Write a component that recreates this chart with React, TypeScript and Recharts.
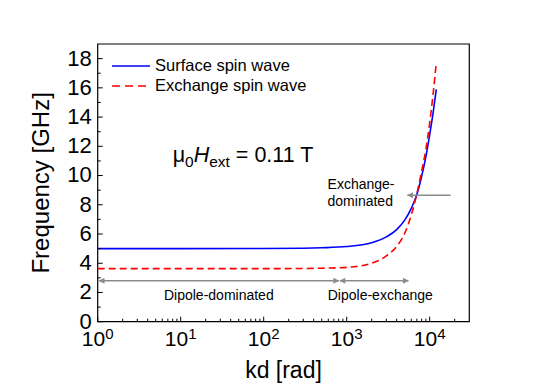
import {
	Legend,
	Line,
	LineChart,
	ReferenceArea,
	ReferenceDot,
	ReferenceLine,
	XAxis,
	YAxis,
} from "recharts";

// wave vector kd [rad] and frequency [GHz]
const kd = [1, 10, 100, 300, 500, 1000, 2000, 3000, 4000, 5000, 6000, 7000, 8000, 9000, 10000, 11000, 12000];
const surfaceWave = [5.0, 5.0, 5.01, 5.03, 5.06, 5.14, 5.4, 5.8, 6.3, 6.95, 7.75, 8.7, 9.95, 11.3, 12.8, 14.3, 15.9];
const exchangeWave = [3.63, 3.63, 3.63, 3.64, 3.66, 3.72, 4.0, 4.5, 5.15, 6.05, 7.3, 8.75, 10.3, 11.8, 13.6, 15.6, 17.7];
const seriesNames = ["Surface spin wave", "Exchange spin wave"];

const xTicks = [
	1, 2, 3, 4, 5, 6, 7, 8, 9,
	10, 20, 30, 40, 50, 60, 70, 80, 90,
	100, 200, 300, 400, 500, 600, 700, 800, 900,
	1000, 2000, 3000, 4000, 5000, 6000, 7000, 8000, 9000,
	10000, 20000,
];
const yTicks = [0, 1, 2, 3, 4, 5, 6, 7, 8, 9, 10, 11, 12, 13, 14, 15, 16, 17, 18];

// region arrows: [x start, x end, y]
const dipoleArrow = [1.04, 803, 2.8];
const dipoleExchangeArrow = [828, 5530, 2.8];
const exchangeArrow = [17900, 5400, 8.65];

const data = kd.map((k, i) => ({ kd: k, surface: surfaceWave[i], exchange: exchangeWave[i] }));

const FONT = "'Liberation Sans', Arial, sans-serif";
const GRAY = "#8c8c8c";

const YTick = (props: any) => {
	const { x, y, payload } = props;
	const v = payload.value;
	const major = v % 2 === 0;
	return (
		<g>
			<line x1={x} x2={x + (major ? 5 : 3)} y1={y} y2={y} stroke="#000" strokeWidth={1} />
			{major && (
				<text x={x - 6} y={y - 1} dy="0.36em" textAnchor="end" fontSize={22} fontFamily={FONT} fill="#000">
					{v}
				</text>
			)}
		</g>
	);
};

const XTick = (props: any) => {
	const { x, y, payload } = props;
	const v = payload.value;
	const e = Math.round(Math.log10(v));
	const major = Math.abs(Math.log10(v) - e) < 1e-9;
	return (
		<g>
			<line x1={x} x2={x} y1={y} y2={y - (major ? 5 : 3)} stroke="#000" strokeWidth={1} />
			{major && (
				<text x={x} y={y + 24} textAnchor="middle" fontSize={21} fontFamily={FONT} fill="#000">
					10
					<tspan dy={-7} fontSize={15}>
						{e}
					</tspan>
				</text>
			)}
		</g>
	);
};

const renderLegend = (props: any) => {
	const items = [...props.payload].sort(
		(a: any, b: any) => seriesNames.indexOf(a.value) - seriesNames.indexOf(b.value),
	);
	return (
		<div style={{ fontFamily: FONT, fontSize: 16.5, color: "#000" }}>
			{items.map((entry: any) => (
				<div key={entry.value} style={{ display: "flex", alignItems: "center", height: 20 }}>
					<svg width={45} height={20}>
						<line
							x1={2}
							x2={40}
							y1={10}
							y2={10}
							stroke={entry.color}
							strokeWidth={1.6}
							strokeDasharray={entry.payload?.strokeDasharray ? "8 5" : undefined}
						/>
					</svg>
					<span>{entry.value}</span>
				</div>
			))}
		</div>
	);
};

const arrowShape = (start: boolean, end: boolean) => (p: any) => (
	<line
		x1={p.x1}
		y1={p.y1}
		x2={p.x2}
		y2={p.y2}
		stroke={GRAY}
		strokeWidth={1.5}
		markerStart={start ? "url(#arrowHead)" : undefined}
		markerEnd={end ? "url(#arrowHead)" : undefined}
	/>
);

const textShape = (lines: string[], anchor: string, size: number) => (p: any) => (
	<text x={p.cx} y={p.cy} textAnchor={anchor} fontSize={size} fontFamily={FONT} fill="#000">
		{lines.map((l, i) => (
			<tspan key={l} x={p.cx} dy={i === 0 ? "0.35em" : "1.2em"}>
				{l}
			</tspan>
		))}
	</text>
);

const fieldShape = (p: any) => (
	<text x={p.cx} y={p.cy} fontSize={21.5} fontFamily={FONT} fill="#000">
		μ<tspan dy={5} fontSize={15.5}>0</tspan>
		<tspan dy={-5} fontStyle="italic">H</tspan>
		<tspan dy={5} fontSize={15.5}>ext</tspan>
		<tspan dy={-5}> = 0.11 T</tspan>
	</text>
);

const App = () => {
	return (
		<div style={{ position: "absolute", left: 0, top: 0, width: 545, height: 385, background: "#fff" }}>
			<LineChart width={545} height={385} data={data} margin={{ top: 44, right: 75.7, bottom: 23.3, left: 17.7 }}>
				<defs>
					<marker
						id="arrowHead"
						viewBox="0 0 10 10"
						refX="9"
						refY="5"
						markerWidth="8"
						markerHeight="6"
						markerUnits="userSpaceOnUse"
						orient="auto-start-reverse"
					>
						<path d="M0,0 L10,5 L0,10 z" fill={GRAY} />
					</marker>
				</defs>
				<XAxis
					dataKey="kd"
					type="number"
					scale="log"
					domain={[1, 30000]}
					ticks={xTicks}
					interval={0}
					height={40}
					tickSize={0}
					tickMargin={0}
					tickLine={false}
					axisLine={false}
					tick={<XTick />}
					label={{
						content: (p: any) => (
							<text
								x={p.viewBox.x + p.viewBox.width / 2}
								y={378}
								textAnchor="middle"
								fontSize={23}
								fontFamily={FONT}
								fill="#000"
							>
								kd [rad]
							</text>
						),
					}}
				/>
				<YAxis
					type="number"
					domain={[0, 19]}
					ticks={yTicks}
					interval={0}
					width={80}
					tickSize={0}
					tickMargin={0}
					tickLine={false}
					axisLine={false}
					tick={<YTick />}
					label={{
						content: (p: any) => {
							const cy = p.viewBox.y + p.viewBox.height / 2;
							return (
								<text
									x={41}
									y={cy}
									transform={`rotate(-90 41 ${cy})`}
									textAnchor="middle"
									dominantBaseline="central"
									fontSize={24}
									fontFamily={FONT}
									fill="#000"
								>
									Frequency [GHz]
								</text>
							);
						},
					}}
				/>
				<ReferenceArea x1={1} x2={30000} y1={0} y2={19} fill="none" stroke="#000" strokeWidth={1.2} ifOverflow="visible" />
				<Legend
					verticalAlign="middle"
					layout="horizontal"
					align="center"
					content={renderLegend}
					wrapperStyle={{ top: 55.5, left: 110, width: "auto" }}
				/>
				<Line
					name={seriesNames[0]}
					dataKey="surface"
					type="monotone"
					stroke="#0000ff"
					strokeWidth={1.6}
					dot={false}
					isAnimationActive={false}
				/>
				<Line
					name={seriesNames[1]}
					dataKey="exchange"
					type="monotone"
					stroke="#ff0000"
					strokeWidth={1.6}
					strokeDasharray="7 4"
					dot={false}
					isAnimationActive={false}
				/>
				<ReferenceLine
					segment={[{ x: dipoleArrow[0], y: dipoleArrow[2] }, { x: dipoleArrow[1], y: dipoleArrow[2] }]}
					shape={arrowShape(true, true)}
				/>
				<ReferenceLine
					segment={[
						{ x: dipoleExchangeArrow[0], y: dipoleExchangeArrow[2] },
						{ x: dipoleExchangeArrow[1], y: dipoleExchangeArrow[2] },
					]}
					shape={arrowShape(true, true)}
				/>
				<ReferenceLine
					segment={[{ x: exchangeArrow[0], y: exchangeArrow[2] }, { x: exchangeArrow[1], y: exchangeArrow[2] }]}
					shape={arrowShape(false, true)}
				/>
				<ReferenceDot x={28.8} y={1.82} r={0} shape={textShape(["Dipole-dominated"], "middle", 14)} />
				<ReferenceDot x={2540} y={1.82} r={0} shape={textShape(["Dipole-exchange"], "middle", 14)} />
				<ReferenceDot x={588} y={9.41} r={0} shape={textShape(["Exchange-", "dominated"], "start", 14)} />
				<ReferenceDot x={8.0} y={10.9} r={0} shape={fieldShape} />
			</LineChart>
		</div>
	);
};

export default App;
